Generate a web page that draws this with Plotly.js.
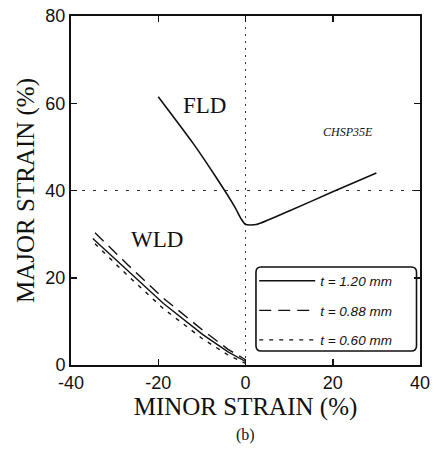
<!DOCTYPE html>
<html><head><meta charset="utf-8">
<script src="https://cdn.plot.ly/plotly-3.0.1.min.js"></script>
<style>body{margin:0;background:#fff}#c{width:435px;height:454px}</style>
</head><body><div id="c"></div>
<script>
const fldX = [-20, -12, -6.6, -2.5, -1, 0, 2.5, 10, 20, 30];
const fldY = [61.5, 50.8, 42.8, 36.3, 33.5, 32.2, 32.2, 35.3, 39.7, 44];
const wld120X = [-35, -27, -18.8, -9.7, -4, 0];
const wld120Y = [29, 21.6, 14.1, 6.9, 3, 0.8];
const wld088X = [-34.5, -27, -18.8, -9.7, -4, 0];
const wld088Y = [30.3, 23, 15.3, 7.9, 3.6, 1.2];
const wld060X = [-34.5, -27, -18.8, -9.7, -4, 0];
const wld060Y = [27.8, 20.5, 12.9, 5.9, 2.3, 0.4];
const legendNames = ['t = 1.20 mm', 't = 0.88 mm', 't = 0.60 mm'];
const xTicks = [-40, -20, 0, 20, 40];
const yTicks = [0, 20, 40, 60, 80];

const blk = '#111';
const SANS = '"Liberation Sans", Arial, sans-serif';
const SERIF = '"Liberation Serif", "Times New Roman", serif';
const traces = [
  {x: fldX, y: fldY, mode: 'lines', line: {color: blk, width: 1.6, shape: 'spline', smoothing: 0.5}, showlegend: false, hoverinfo: 'skip'},
  {x: wld120X, y: wld120Y, mode: 'lines', name: legendNames[0], legendgroup: 'a', line: {color: blk, width: 1.4}},
  {x: wld088X, y: wld088Y, mode: 'lines', name: legendNames[1], legendgroup: 'b', line: {color: blk, width: 1.4, dash: '12px,7px'}},
  {x: wld060X, y: wld060Y, mode: 'lines', name: legendNames[2], legendgroup: 'c', line: {color: blk, width: 1.4, dash: '4px,6px'}}
];

const layout = {
  width: 435, height: 454,
  margin: {l: 71, r: 15, t: 16, b: 89},
  paper_bgcolor: '#fff', plot_bgcolor: '#fff',
  font: {family: SANS, color: blk},
  xaxis: {
    range: [-40, 40], tickvals: xTicks, ticktext: xTicks.map(String),
    showgrid: false, zeroline: false, showline: true, linewidth: 2, linecolor: blk,
    mirror: 'ticks', ticks: 'inside', ticklen: 6, tickwidth: 1.5, tickcolor: blk,
    tickfont: {size: 18, family: SANS},
    title: {text: 'MINOR STRAIN (%)', font: {family: SERIF, size: 25}, standoff: 2}
  },
  yaxis: {
    range: [0, 80], tickvals: yTicks, ticktext: yTicks.map(String),
    showgrid: false, zeroline: false, showline: true, linewidth: 2, linecolor: blk,
    mirror: 'ticks', ticks: 'inside', ticklen: 6, tickwidth: 1.5, tickcolor: blk,
    tickfont: {size: 18, family: SANS},
    title: {text: 'MAJOR STRAIN (%)', font: {family: SERIF, size: 25}, standoff: 4}
  },
  showlegend: true,
  legend: {
    x: 0.525, y: 0.285, xanchor: 'left', yanchor: 'top',
    bgcolor: 'rgba(0,0,0,0)', borderwidth: 0,
    traceorder: 'grouped', tracegroupgap: 9,
    font: {size: 13.5, family: SANS, style: 'italic'},
    itemwidth: 56
  },
  shapes: [
    {type: 'line', xref: 'x', yref: 'paper', x0: 0, x1: 0, y0: 0, y1: 1, line: {color: '#333', width: 1, dash: '2px,5px'}, layer: 'below'},
    {type: 'line', xref: 'paper', yref: 'y', x0: 0, x1: 1, y0: 40, y1: 40, line: {color: '#333', width: 1, dash: '3px,8px'}, layer: 'below'},
    {type: 'path', xref: 'paper', yref: 'paper',
     path: 'M 0.545 0.281 L 0.975 0.281 Q 0.99 0.281 0.99 0.266 L 0.99 0.055 Q 0.99 0.04 0.975 0.04 L 0.545 0.04 Q 0.53 0.04 0.53 0.055 L 0.53 0.266 Q 0.53 0.281 0.545 0.281 Z',
     line: {color: blk, width: 1.6}, fillcolor: 'rgba(0,0,0,0)'}
  ],
  annotations: [
    {x: -9.5, y: 59.6, xref: 'x', yref: 'y', text: 'FLD', showarrow: false, font: {family: SERIF, size: 23}},
    {x: -20.3, y: 28.7, xref: 'x', yref: 'y', text: 'WLD', showarrow: false, font: {family: SERIF, size: 23}},
    {x: 23.5, y: 53.4, xref: 'x', yref: 'y', text: 'CHSP35E', showarrow: false, font: {family: SERIF, size: 12, style: 'italic'}},
    {x: 0.5, y: -0.2, xref: 'paper', yref: 'paper', text: '(b)', showarrow: false, yanchor: 'middle', font: {family: SERIF, size: 16}}
  ]
};
Plotly.newPlot('c', traces, layout, {displayModeBar: false, staticPlot: true});
</script></body></html>
